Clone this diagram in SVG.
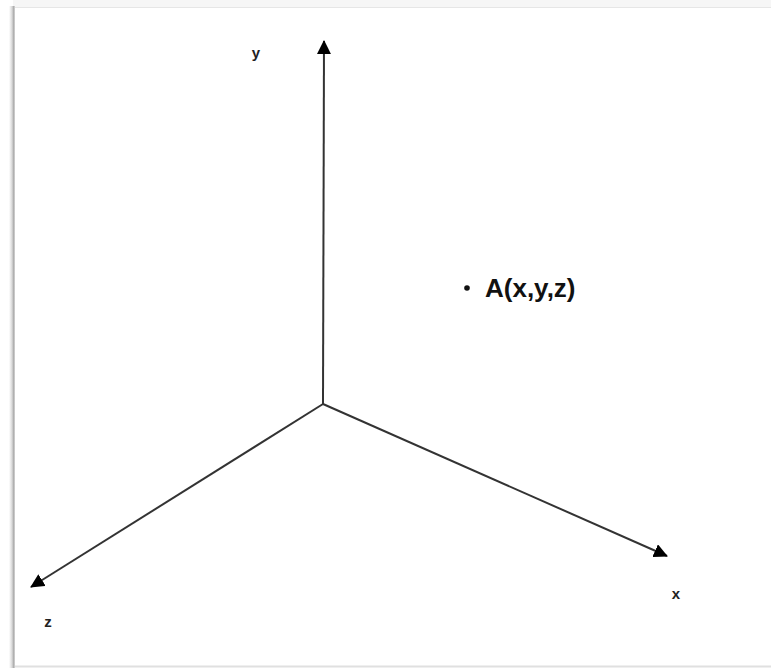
<svg xmlns="http://www.w3.org/2000/svg" width="771" height="668" viewBox="0 0 771 668">
<defs>
<marker id="ah" viewBox="0 0 14 14" refX="13" refY="7" markerWidth="14" markerHeight="14" markerUnits="userSpaceOnUse" orient="auto">
<path d="M0,0 L14,7 L0,14 Z" fill="#000"/>
</marker>
<linearGradient id="ls" x1="0" x2="1" y1="0" y2="0">
<stop offset="0" stop-color="#ffffff"/>
<stop offset="0.5" stop-color="#d8d8d8"/>
<stop offset="0.8" stop-color="#a8a8a8"/>
<stop offset="1" stop-color="#e0e0e0"/>
</linearGradient>
</defs>
<style>
.axis{stroke:#333;stroke-width:2;fill:none}
.lbl{font-family:"Liberation Sans",Arial,sans-serif;font-weight:bold;fill:#222;font-size:15px}
.pt{font-family:"Liberation Sans",Arial,sans-serif;font-weight:bold;fill:#111;font-size:26px}
</style>
<rect width="771" height="668" fill="#fff"/>
<g id="frame">
<rect x="13" y="0" width="758" height="8" fill="#f6f6f6"/>
<rect x="9" y="6" width="6" height="662" fill="url(#ls)"/>
<line x1="15" y1="7.5" x2="771" y2="7.5" stroke="#e6e6e6" stroke-width="1"/>
<line x1="15" y1="666.5" x2="771" y2="666.5" stroke="#e0e0e0" stroke-width="2"/>
</g>
<g id="connectors">
<line class="axis" x1="323" y1="404" x2="324" y2="41" marker-end="url(#ah)"/>
<line class="axis" x1="323" y1="404" x2="667" y2="556" marker-end="url(#ah)"/>
<line class="axis" x1="323" y1="404" x2="31" y2="587" marker-end="url(#ah)"/>
</g>
<g id="label-y"><text class="lbl" x="256" y="58" text-anchor="middle">y</text></g>
<g id="label-x"><text class="lbl" x="676" y="599" text-anchor="middle">x</text></g>
<g id="label-z"><text class="lbl" x="48" y="627" text-anchor="middle">z</text></g>
<g id="point-A">
<circle cx="467" cy="288" r="2.8" fill="#111"/>
<text class="pt" x="485" y="297">A(x,y,z)</text>
</g>
</svg>
